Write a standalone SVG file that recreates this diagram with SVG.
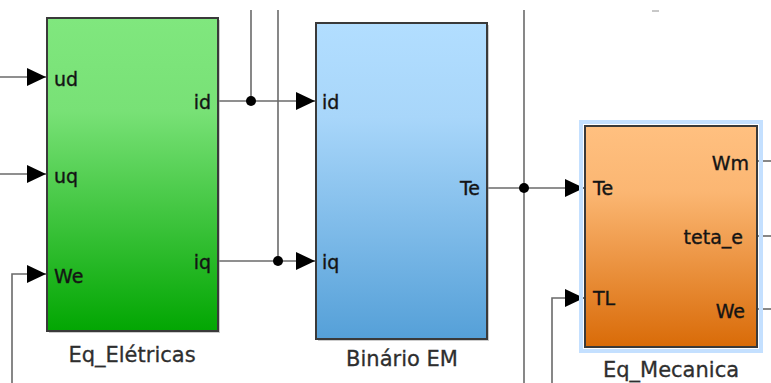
<svg xmlns="http://www.w3.org/2000/svg" width="771" height="383" viewBox="0 0 771 383">
  <style>
    .blk { stroke: #3a3a3a; stroke-width: 2; }
    .wire { fill: none; stroke: #6a6a6a; stroke-width: 1.6; }
    .port { font-family: "DejaVu Sans", Verdana, sans-serif; font-size: 19px; fill: #141414; stroke: #141414; stroke-width: 0.35; }
    .name { font-family: "DejaVu Sans", Verdana, sans-serif; font-size: 21px; fill: #2e2e2e; stroke: #2e2e2e; stroke-width: 0.3; text-anchor: middle; }
    .dot { fill: #000; }
  </style>
  <defs>
    <linearGradient id="gGreen" x1="0" y1="0" x2="0" y2="1">
      <stop offset="0" stop-color="#80e77e"/>
      <stop offset="0.3" stop-color="#78e176"/>
      <stop offset="1" stop-color="#02a602"/>
    </linearGradient>
    <linearGradient id="gBlue" x1="0" y1="0" x2="0" y2="1">
      <stop offset="0" stop-color="#b2deff"/>
      <stop offset="0.3" stop-color="#a8d6fa"/>
      <stop offset="1" stop-color="#55a0d8"/>
    </linearGradient>
    <linearGradient id="gOrange" x1="0" y1="0" x2="0" y2="1">
      <stop offset="0" stop-color="#ffc080"/>
      <stop offset="0.3" stop-color="#fbb672"/>
      <stop offset="1" stop-color="#d96b08"/>
    </linearGradient>
    <marker id="arr" markerUnits="userSpaceOnUse" markerWidth="19" markerHeight="20" refX="19" refY="10" orient="auto">
      <path d="M0,1 L19,10 L0,19 Z" fill="#000"/>
    </marker>
  </defs>

  <rect width="771" height="383" fill="#fff"/>

  <!-- connectors -->
  <g id="connectors">
    <!-- inputs to Eq_Elétricas -->
    <path class="wire" d="M0,77 H46" marker-end="url(#arr)"/>
    <path class="wire" d="M0,174 H46" marker-end="url(#arr)"/>
    <path class="wire" d="M12,383 V274 H46" marker-end="url(#arr)"/>
    <!-- id branch -->
    <path class="wire" d="M218,101 H315" marker-end="url(#arr)"/>
    <path class="wire" d="M251,10 V101"/>
    <!-- iq branch -->
    <path class="wire" d="M218,261 H315" marker-end="url(#arr)"/>
    <path class="wire" d="M278,10 V261"/>
    <!-- Te branch -->
    <path class="wire" d="M487,188 H584" marker-end="url(#arr)"/>
    <path class="wire" d="M524,10 V383"/>
    <!-- TL input -->
    <path class="wire" d="M552,383 V298 H584" marker-end="url(#arr)"/>
    <!-- outputs of Eq_Mecanica -->
    <path class="wire" d="M757,161 H771"/>
    <path class="wire" d="M757,236 H771"/>
    <path class="wire" d="M757,309 H771"/>
    <!-- small stub at the top -->
    <path d="M652,11 H659" stroke="#c8c8c8" stroke-width="2"/>
    <circle class="dot" cx="251" cy="101" r="5"/>
    <circle class="dot" cx="278" cy="261" r="5"/>
    <circle class="dot" cx="524" cy="188" r="5"/>
  </g>

  <!-- Eq_Elétricas -->
  <g id="eq-eletricas">
    <rect x="49" y="20" width="171" height="313" fill="#9a9a9a" opacity="0.5"/>
    <rect class="blk" x="47" y="18" width="171" height="313" fill="url(#gGreen)"/>
    <text class="port" x="54" y="86">ud</text>
    <text class="port" x="54" y="183">uq</text>
    <text class="port" x="54" y="283">We</text>
    <text class="port" x="211" y="109" text-anchor="end">id</text>
    <text class="port" x="211" y="269" text-anchor="end">iq</text>
    <text class="name" x="132" y="362">Eq_Elétricas</text>
  </g>

  <!-- Binário EM -->
  <g id="binario-em">
    <rect x="318" y="25" width="171" height="316" fill="#9a9a9a" opacity="0.5"/>
    <rect class="blk" x="316" y="23" width="171" height="316" fill="url(#gBlue)"/>
    <text class="port" x="322" y="109">id</text>
    <text class="port" x="322" y="269">iq</text>
    <text class="port" x="480" y="195" text-anchor="end">Te</text>
    <text class="name" x="402" y="366">Binário EM</text>
  </g>

  <!-- Eq_Mecanica -->
  <g id="eq-mecanica">
    <rect x="581" y="122" width="180" height="229" fill="none" stroke="#c4e0ff" stroke-width="4"/>
    <rect class="blk" x="585" y="126" width="172" height="221" fill="url(#gOrange)"/>
    <text class="port" x="593" y="195">Te</text>
    <text class="port" x="593" y="305">TL</text>
    <text class="port" x="749" y="170" text-anchor="end">Wm</text>
    <text class="port" x="743" y="244" text-anchor="end">teta_e</text>
    <text class="port" x="745" y="318" text-anchor="end">We</text>
    <text class="name" x="671" y="377">Eq_Mecanica</text>
  </g>
</svg>
